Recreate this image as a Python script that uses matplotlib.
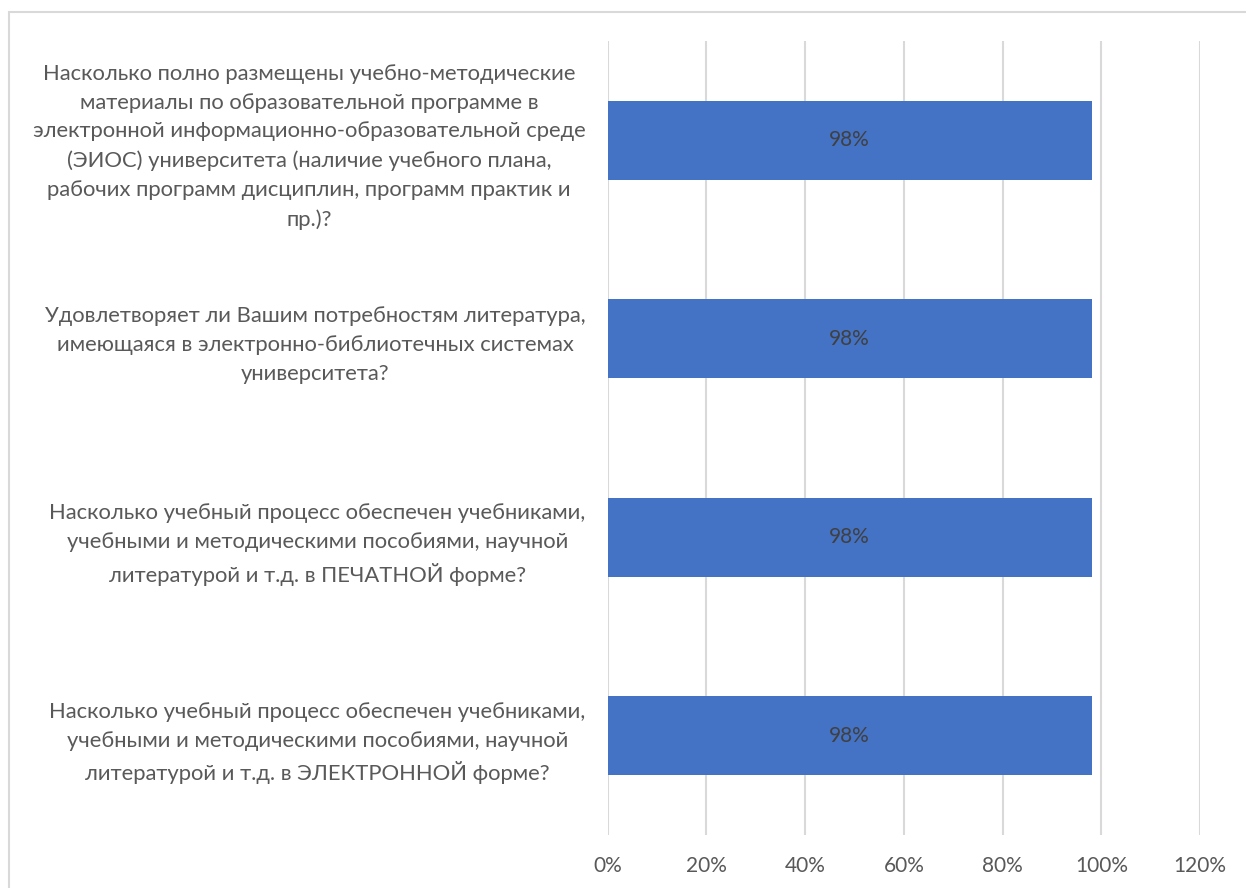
import matplotlib
matplotlib.use("Agg")
from matplotlib import pyplot as plt
from matplotlib.patches import Rectangle
from matplotlib.ticker import PercentFormatter

# survey questions, top to bottom
questions = [
    "Насколько полно размещены учебно-методические\n"
    "материалы по образовательной программе в\n"
    "электронной информационно-образовательной среде\n"
    "(ЭИОС) университета (наличие учебного плана,\n"
    "рабочих программ дисциплин, программ практик и\n"
    "пр.)?",
    "Удовлетворяет ли Вашим потребностям литература,\n"
    "имеющаяся в электронно-библиотечных системах\n"
    "университета?",
    "Насколько учебный процесс обеспечен учебниками,\n"
    "учебными и методическими пособиями, научной\n"
    "литературой и т.д. в ПЕЧАТНОЙ форме?",
    "Насколько учебный процесс обеспечен учебниками,\n"
    "учебными и методическими пособиями, научной\n"
    "литературой и т.д. в ЭЛЕКТРОННОЙ форме?",
]
shares = [0.98, 0.98, 0.98, 0.98]
x_ticks = [0, 0.2, 0.4, 0.6, 0.8, 1.0, 1.2]

BAR_COLOR = "#4472C4"
TEXT_COLOR = "#595959"
GRID_COLOR = "#D9D9D9"

plt.rcParams["font.family"] = ["Lato", "DejaVu Sans"]

W, H = 1246, 888
fig = plt.figure(figsize=(W / 100, H / 100), dpi=100)
ax = fig.add_axes([607.7 / W, 1 - 835 / H, (1200.2 - 607.7) / W, (835 - 41) / H])

# chart frame (runs off the right and bottom edges)
fig.patches.append(Rectangle((9 / W, -0.1), 1.2, 1 - 12 / H + 0.1, transform=fig.transFigure,
                             fill=False, edgecolor=GRID_COLOR, linewidth=1.5))

pos = list(range(len(questions)))
bars = ax.barh(pos, shares, height=0.4, color=BAR_COLOR, zorder=3)
ax.bar_label(bars, labels=[f"{v:.0%}" for v in shares], label_type="center",
             color="#404040", fontsize=15)

ax.set_xlim(0, 1.2)
ax.set_ylim(len(questions) - 0.5, -0.5)
ax.set_xticks(x_ticks)
ax.xaxis.set_major_formatter(PercentFormatter(1.0, decimals=0))
ax.set_yticks(pos)
ax.set_yticklabels(questions, fontsize=15.8, color=TEXT_COLOR, linespacing=1.56)
for lbl in ax.get_yticklabels():
    lbl.set_multialignment("center")
ax.tick_params(axis="y", length=0, pad=16)
ax.tick_params(axis="x", length=0, pad=15, labelsize=15, labelcolor=TEXT_COLOR)
ax.grid(axis="x", color=GRID_COLOR, linewidth=1.5, zorder=0)
for s in ax.spines.values():
    s.set_visible(False)

fig.savefig("out.png", dpi=100, facecolor="white")
